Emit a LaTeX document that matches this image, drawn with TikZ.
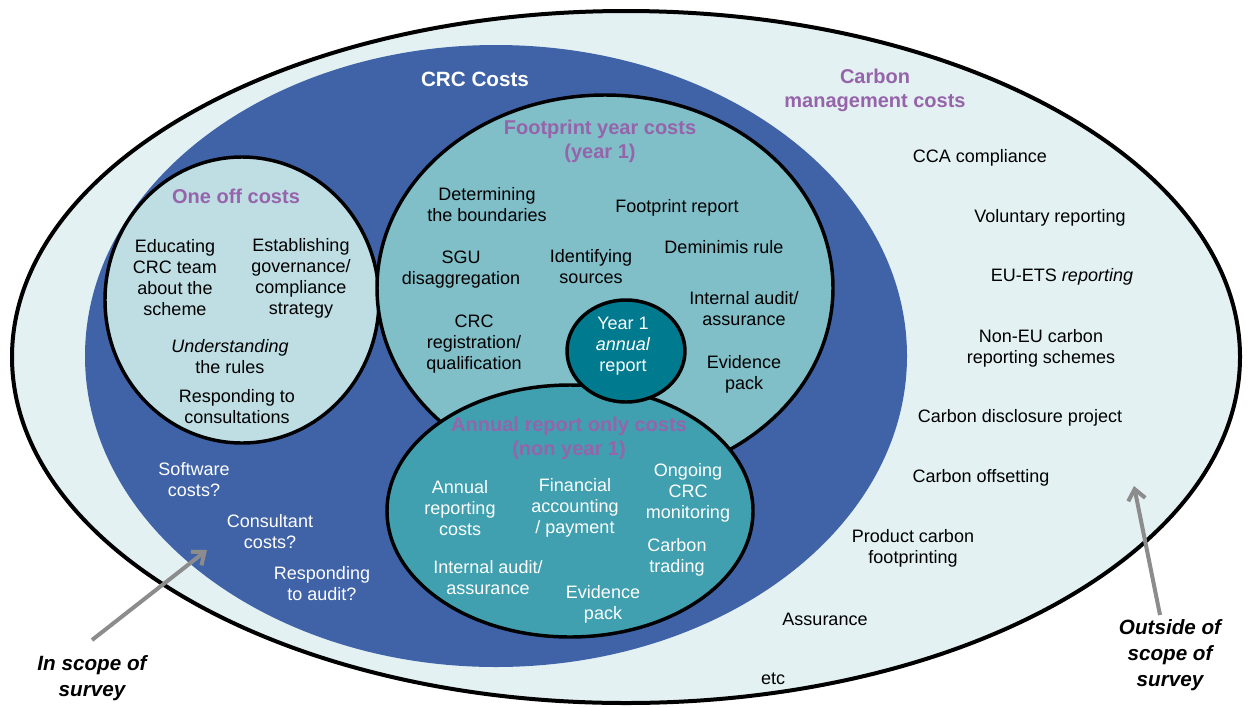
\documentclass[tikz,border=0pt]{standalone}
\usepackage{fontspec}
\setmainfont{Liberation Sans}
\usetikzlibrary{arrows.meta}
\definecolor{outerfill}{RGB}{227,241,243}
\definecolor{crcblue}{RGB}{64,99,168}
\definecolor{oneoff}{RGB}{190,222,228}
\definecolor{foot}{RGB}{128,190,200}
\definecolor{annualc}{RGB}{64,160,176}
\definecolor{yearone}{RGB}{0,122,142}
\definecolor{purp}{RGB}{150,100,170}
\definecolor{arrowgray}{RGB}{140,140,140}
\begin{document}
\begin{tikzpicture}[x=0.75pt,y=-0.75pt,
 body/.style={font=\fontsize{13.5}{15.75}\selectfont, align=center, inner sep=0pt},
 wbody/.style={body, text=white},
 headtext/.style={font=\bfseries\fontsize{15}{18}\selectfont, align=center, inner sep=0pt, text=purp},
 scopelabel/.style={font=\bfseries\itshape\fontsize{15.5}{19.5}\selectfont, align=center, inner sep=0pt},
 ring/.style={draw=black, line width=2.6pt},
 scopearrow/.style={draw=arrowgray, line width=3pt, -{Straight Barb[length=8pt,width=13pt]}}
]
\useasboundingbox (0,0) rectangle (1248,707);
\fill[white] (0,0) rectangle (1248,707);

% regions
\draw[line width=3pt, fill=outerfill] (626,357) ellipse [x radius=614, y radius=346];
\fill[crcblue] (496,356) ellipse [x radius=411, y radius=311];
\draw[ring, fill=oneoff] (242,300) ellipse [x radius=137, y radius=143];
\draw[ring, fill=foot] (605,288) ellipse [x radius=228, y radius=193];
\draw[ring, fill=annualc] (570,511) ellipse [x radius=183, y radius=126];
\draw[ring, fill=yearone] (626,351) ellipse [x radius=59, y radius=51];

% titles
\node[headtext, text=white, font=\bfseries\fontsize{15.5}{18}\selectfont] (crc) at (475,79) {CRC Costs};
\node[headtext] (cmc) at (875,90) {Carbon\\management costs};
\node[headtext] (oneoffT) at (236,196) {One off costs};
\node[headtext] (footT) at (600,141) {Footprint year costs\\(year 1)};
\node[headtext] (annT) at (569,438) {Annual report only costs\\(non year 1)};

% one off costs
\node[body] (educ) at (175,278) {Educating\\CRC team\\about the\\scheme};
\node[body] (estab) at (301,278) {Establishing\\governance/\\compliance\\strategy};
\node[body] (under) at (230,357) {\textit{Understanding}\\the rules};
\node[body] (consult) at (237,407) {Responding to\\consultations};

% footprint year costs
\node[body] (determ) at (487,205) {Determining\\the boundaries};
\node[body] (fprep) at (677,208) {Footprint report};
\node[body] (demin) at (724,247) {Deminimis rule};
\node[body] (sgu) at (461,270) {SGU\\disaggregation};
\node[body] (ident) at (591,267) {Identifying\\sources};
\node[body] (iaudit1) at (744,309) {Internal audit/\\assurance};
\node[body] (crcreg) at (474,344) {CRC\\registration/\\qualification};
\node[wbody] (year1) at (623,346) {Year 1\\\textit{annual}\\report};
\node[body] (evid1) at (744,374) {Evidence\\pack};

% annual report only costs
\node[wbody] (annrep) at (460,508) {Annual\\reporting\\costs};
\node[wbody] (finacc) at (575,508) {Financial\\accounting\\/ payment};
\node[wbody] (ongoing) at (688,493) {Ongoing\\CRC\\monitoring};
\node[wbody] (ctrade) at (677,557) {Carbon\\trading};
\node[wbody] (iaudit2) at (488,578) {Internal audit/\\assurance};
\node[wbody] (evid2) at (603,604) {Evidence\\pack};

% other CRC costs
\node[wbody] (soft) at (194,480) {Software\\costs?};
\node[wbody] (consul) at (270,532) {Consultant\\costs?};
\node[wbody] (respaud) at (322,584) {Responding\\to audit?};

% carbon management costs
\node[body] (cca) at (980,158) {CCA compliance};
\node[body] (volrep) at (1050,218) {Voluntary reporting};
\node[body] (euets) at (1062,277) {EU-ETS \textit{reporting}};
\node[body] (noneu) at (1041,348) {Non-EU carbon\\reporting schemes};
\node[body] (cdp) at (1020,418) {Carbon disclosure project};
\node[body] (offset) at (981,478) {Carbon offsetting};
\node[body] (pcf) at (913,548) {Product carbon\\footprinting};
\node[body] (assur) at (825,619) {Assurance};
\node[body] (etc) at (773,679) {etc};

% scope labels and arrows
\node[scopelabel] (inscope) at (92,678) {In scope of\\survey};
\node[scopelabel] (outscope) at (1170,655) {Outside of\\scope of\\survey};
\coordinate (inTail) at (92,640);
\coordinate (inHead) at (207,550);
\coordinate (outTail) at (1160,615);
\coordinate (outHead) at (1134,486);
\draw[scopearrow] (inTail) -- (inHead);
\draw[scopearrow] (outTail) -- (outHead);
\end{tikzpicture}
\end{document}
